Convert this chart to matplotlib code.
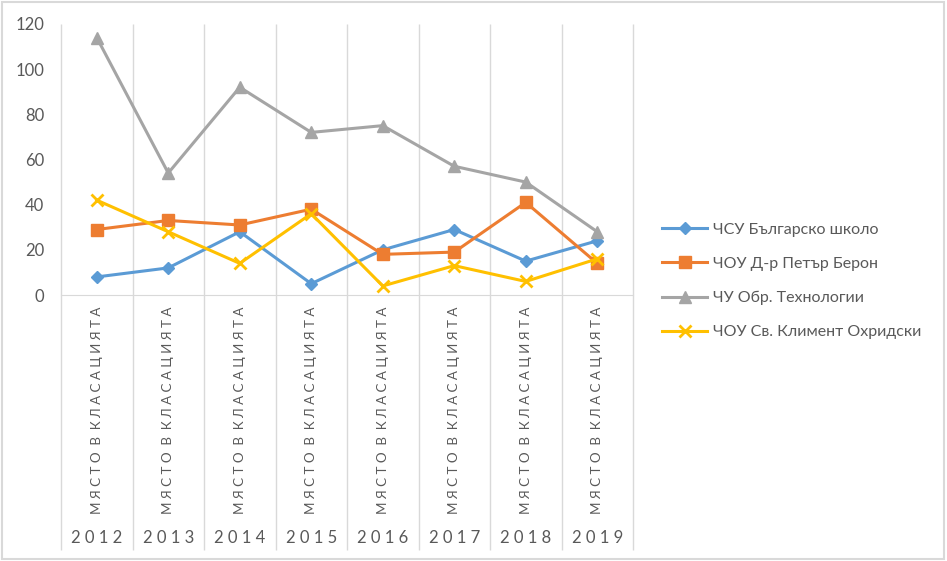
import matplotlib.pyplot as plt
from matplotlib.patches import Rectangle

plt.rcParams['font.family'] = ['Lato', 'DejaVu Sans']

years = ['2012', '2013', '2014', '2015', '2016', '2017', '2018', '2019']
sub_label = 'МЯСТО В КЛАСАЦИЯТА'
names = ['ЧСУ Българско школо', 'ЧОУ Д-р Петър Берон',
         'ЧУ Обр. Технологии', 'ЧОУ Св. Климент Охридски']
bulgarsko = [8, 12, 28, 5, 20, 29, 15, 24]
beron = [29, 33, 31, 38, 18, 19, 41, 14]
tehnologii = [114, 54, 92, 72, 75, 57, 50, 28]
ohridski = [42, 28, 14, 36, 4, 13, 6, 16]

series = [bulgarsko, beron, tehnologii, ohridski]
colors = ['#5B9BD5', '#ED7D31', '#A5A5A5', '#FFC000']
markers = ['D', 's', '^', 'x']
msizes = [6.5, 9, 8, 9]

W, H = 947, 561
fig = plt.figure(figsize=(W / 100, H / 100), dpi=100)
fig.patches.append(Rectangle((0.002, 0.003), 0.995, 0.993, transform=fig.transFigure,
                             fill=False, edgecolor='#d9d9d9', lw=1.5))

left, right, top, bottom = 61, 633, 24, 295
ax = fig.add_axes([left / W, (H - bottom) / H, (right - left) / W, (bottom - top) / H])

x = list(range(len(years)))
for vals, name, c, m, ms in zip(series, names, colors, markers, msizes):
    ax.plot(x, vals, color=c, lw=2.2, marker=m, markersize=ms, label=name,
            markeredgewidth=2 if m == 'x' else 1, clip_on=False, zorder=3)

ax.set_xlim(-0.5, len(years) - 0.5)
ax.set_ylim(0, 120)
ax.set_yticks(range(0, 121, 20))
ax.tick_params(axis='y', length=0, labelsize=12, labelcolor='#595959', pad=12)
ax.set_xticks([])
for s in ['top', 'right', 'left']:
    ax.spines[s].set_visible(False)
ax.spines['bottom'].set_color('#d9d9d9')

# category boundaries, running through the label area
ext = -(550 - bottom) / (bottom - top)
bounds = [i - 0.5 for i in range(len(years) + 1)]
ax.vlines(bounds, ext, 1, transform=ax.get_xaxis_transform(),
          color='#d9d9d9', lw=1, clip_on=False, zorder=1)

words = sub_label.split(' ')
spaced_sub = '  '.join(' '.join(w) for w in words)
for i, yr in enumerate(years):
    ax.text(i, -(307 - bottom) / (bottom - top), spaced_sub, transform=ax.get_xaxis_transform(),
            rotation=90, ha='center', va='top', fontsize=9.6, color='#595959')
    ax.text(i, -(538 - bottom) / (bottom - top), ' '.join(yr), transform=ax.get_xaxis_transform(),
            ha='center', va='center', fontsize=12, color='#595959')

ax.legend(loc='center left', bbox_to_anchor=(648 / W, 280 / H), bbox_transform=fig.transFigure,
          frameon=False, fontsize=11.5, labelcolor='#595959', handlelength=2.8,
          labelspacing=1.25, handletextpad=0.4)

fig.savefig('out.png', dpi=100)
